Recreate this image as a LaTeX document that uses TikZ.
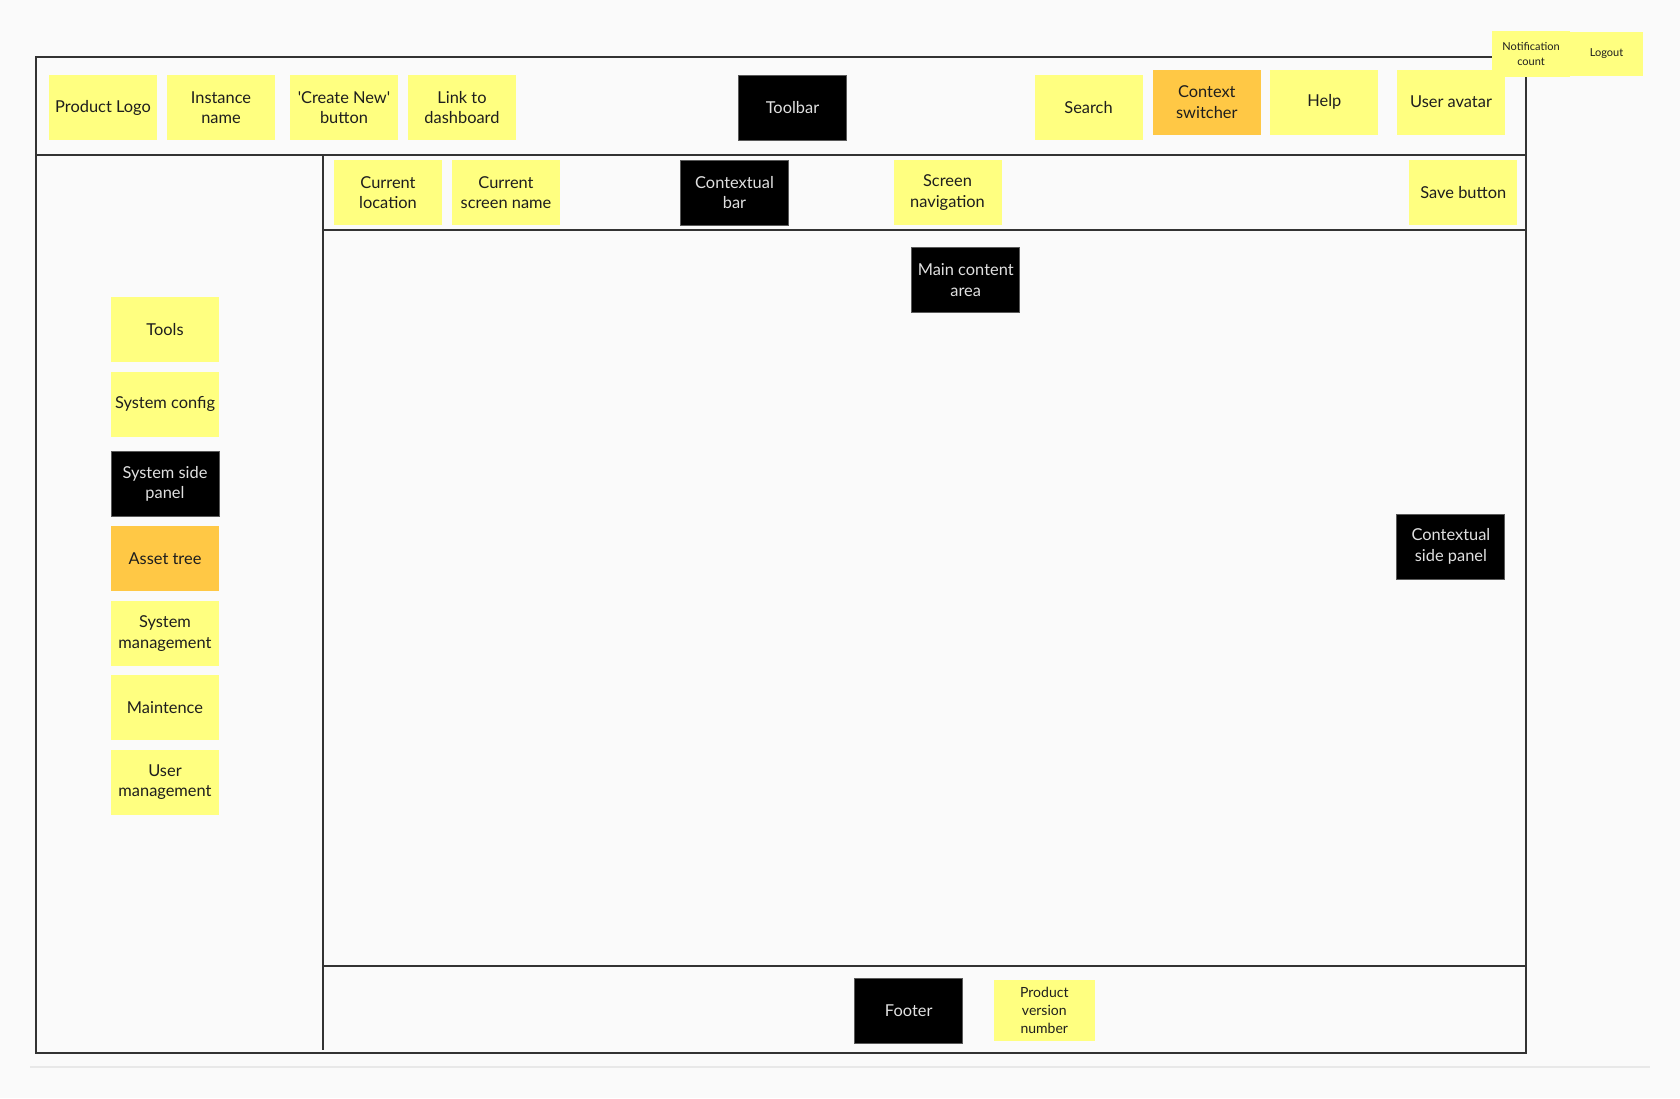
\documentclass[tikz,border=0pt]{standalone}
\usepackage{fontspec}
\setmainfont{Lato}
\usetikzlibrary{positioning}
\definecolor{paper}{HTML}{FAFAFA}
\definecolor{stickyyellow}{HTML}{FFFF80}
\definecolor{stickyorange}{HTML}{FFC845}
\definecolor{frameline}{HTML}{333333}
\definecolor{inktext}{HTML}{1E1E1E}
\tikzset{%
	sticky/.style={%
		rectangle,
		fill=stickyyellow,
		text=inktext,
		minimum width=54pt,
		minimum height=32.5pt,
		inner sep=0pt,
		align=center,
		font=\fontsize{8.2}{10.2}\selectfont
	},
	hot/.style={sticky, fill=stickyorange},
	region/.style={sticky, fill=black, draw=black!65, line width=0.5pt, text=white!88!black},
	tiny/.style={sticky, font=\fontsize{5.5}{7.2}\selectfont}
}

\begin{document}
\begin{tikzpicture}[x=0.5pt, y=-0.5pt, frame/.style={draw=frameline, line width=1pt}]
        \fill[paper] (0,0) rectangle (1680,1098);
        \useasboundingbox (0,0) rectangle (1680,1098);
        \coordinate (nw) at (36.4,56.7);
        \coordinate (se) at (1525.7,1053);
        \coordinate (barL) at (36.4,155);
        \coordinate (barR) at (1527,155);
        \coordinate (ctxL) at (323,230);
        \coordinate (ctxR) at (1525.7,230);
        \coordinate (sideT) at (323,155);
        \coordinate (sideB) at (323,1050);
        \coordinate (footL) at (323,965.7);
        \coordinate (footR) at (1525.7,965.7);
        \coordinate (baseL) at (30,1067);
        \coordinate (baseR) at (1650,1067);
        \draw[draw=black!9, line width=1pt] (baseL) -- (baseR);
        \draw[frame] (nw) rectangle (se);
        \draw[frame] (barL) -- (barR);
        \draw[frame] (ctxL) -- (ctxR);
        \draw[frame, line width=0.8pt] (sideT) -- (sideB);
        \draw[frame] (footL) -- (footR);

        \node [sticky] (logo) at (103,107.5) {Product Logo};
        \node [sticky] (instance) at (221,107.5) {Instance\\name};
        \node [sticky] (createnew) at (344,107.5) {\textquotesingle Create New\textquotesingle\\button};
        \node [sticky] (dashlink) at (462,107.5) {Link to\\dashboard};
        \node [region] (toolbar) at (792.5,107.5) {Toolbar};
        \node [sticky] (search) at (1088.5,107.5) {Search};
        \node [hot] (ctxswitch) at (1206.8,102) {Context\\switcher};
        \node [sticky] (help) at (1324.3,102) {Help};
        \node [sticky] (avatar) at (1451,102) {User avatar};
        \node [tiny, minimum width=36.5pt, minimum height=22pt] (logout) at (1606.5,54) {Logout};
        \node [tiny, minimum width=39pt, minimum height=23pt] (notif) at (1531,54) {Notification\\count};

        \node [sticky] (curloc) at (388,192.5) {Current\\location};
        \node [sticky] (curscreen) at (506,192.5) {Current\\screen name};
        \node [region] (ctxbar) at (734.5,192.5) {Contextual\\bar};
        \node [sticky] (screennav) at (947.5,192.5) {Screen\\navigation};
        \node [sticky] (save) at (1463.3,192.5) {Save button};

        \node [region] (maincontent) at (965.7,280) {Main content\\area};
        \node [region] (ctxside) at (1450.9,546.5) {Contextual\\side panel};

        \node [sticky] (tools) at (165,329.5) {Tools};
        \node [sticky] (sysconfig) at (165,404.3) {System config};
        \node [region] (syspanel) at (165,484) {System side\\panel};
        \node [hot] (assettree) at (165,558.8) {Asset tree};
        \node [sticky] (sysmgmt) at (165,633.4) {System\\management};
        \node [sticky] (maint) at (165,707.5) {Maintence};
        \node [sticky] (usermgmt) at (165,782) {User\\management};

        \node [region] (footer) at (908.7,1011) {Footer};
        \node [sticky, minimum width=50.5pt, minimum height=30.5pt, font=\fontsize{7}{8.9}\selectfont] (version) at (1044.3,1010.5) {Product\\version\\number};
    \end{tikzpicture}
\end{document}
